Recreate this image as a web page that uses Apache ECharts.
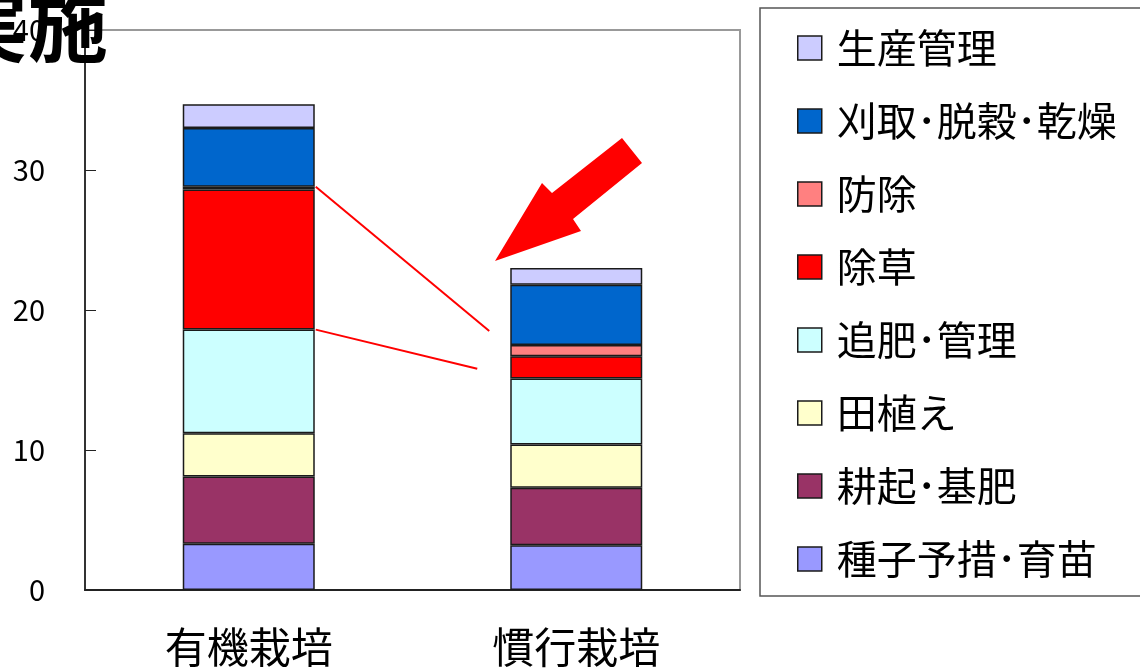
<!DOCTYPE html>
<html>
<head>
<meta charset="utf-8">
<script src="https://cdn.jsdelivr.net/npm/echarts@6/dist/echarts.min.js"></script>
<style>
  html, body { margin: 0; padding: 0; background: #fff; }
  #chart { width: 1140px; height: 668px; }
</style>
</head>
<body>
<div id="chart"></div>
<script>
// 栽培方法
const categories = ['有機栽培', '慣行栽培'];
// 作業区分（下から積み上げる順）
const tasks = ['種子予措･育苗', '耕起･基肥', '田植え', '追肥･管理', '除草', '防除', '刈取･脱穀･乾燥', '生産管理'];
// 作業時間
const organicHours = [3.3, 4.8, 3.1, 7.4, 10.0, 0.2, 4.2, 1.7];
const conventionalHours = [3.2, 4.1, 3.1, 4.7, 1.6, 0.8, 4.3, 1.2];
const taskColors = ['#9999FF', '#993366', '#FFFFCC', '#CCFFFF', '#FF0000', '#FF8080', '#0066CC', '#CCCCFF'];
const yTicks = [0, 10, 20, 30, 40];

const FONT = '"Noto Sans CJK JP", "Noto Sans", sans-serif';
const BAR_W = 132;

const chart = echarts.init(document.getElementById('chart'), null, { renderer: 'canvas' });

const series = tasks.map((name, i) => ({
  name,
  type: 'bar',
  stack: 'hours',
  barWidth: BAR_W,
  data: [organicHours[i], conventionalHours[i]],
  itemStyle: { color: taskColors[i], borderColor: '#1a1a1a', borderWidth: 1.5 },
  emphasis: { disabled: true },
  animation: false
}));

chart.setOption({
  animation: false,
  backgroundColor: '#ffffff',
  grid: {
    left: 85, top: 30, right: 400, bottom: 78,
    show: true, borderColor: '#999999', borderWidth: 2, backgroundColor: 'transparent'
  },
  legend: {
    orient: 'vertical',
    left: 792,
    top: 23,
    itemWidth: 24,
    itemHeight: 24,
    itemGap: 33,
    icon: 'rect',
    data: tasks.slice().reverse(),
    itemStyle: { borderColor: '#1a1a1a', borderWidth: 1.5 },
    textStyle: { fontFamily: FONT, fontSize: 40, color: '#000', lineHeight: 40, padding: [0, 0, 0, 10] },
    selectedMode: false
  },
  xAxis: {
    type: 'category',
    data: categories,
    boundaryGap: true,
    axisLine: { lineStyle: { color: '#222', width: 2 } },
    axisTick: { inside: true, length: 14, lineStyle: { color: '#222', width: 1 } },
    axisLabel: { fontFamily: FONT, fontSize: 42, color: '#000', margin: 36 }
  },
  yAxis: {
    type: 'value',
    min: yTicks[0],
    max: yTicks[yTicks.length - 1],
    interval: 10,
    axisLine: { show: true, lineStyle: { color: '#333', width: 2 } },
    axisTick: { show: true, inside: true, length: 11, lineStyle: { color: '#222', width: 1 } },
    splitLine: { show: false },
    axisLabel: { fontFamily: FONT, fontSize: 29, color: '#000', margin: 40 }
  },
  series
});

// 累積値（積み上げ境界）
function cumulative(values, upto) {
  let s = 0;
  for (let i = 0; i <= upto; i++) s += values[i];
  return s;
}

// 除草の増減を示す引き出し線（有機栽培の除草帯の上下端から）
const weedIdx = tasks.indexOf('除草');
const leaderLines = [
  { from: cumulative(organicHours, weedIdx + 1), to: 18.5, endOffset: -21 },
  { from: cumulative(organicHours, weedIdx - 1), to: 15.8, endOffset: -33 }
];

const graphics = [];
leaderLines.forEach(l => {
  const p0 = chart.convertToPixel({ gridIndex: 0 }, [0, l.from]);
  const p1 = chart.convertToPixel({ gridIndex: 0 }, [1, l.to]);
  graphics.push({
    type: 'line',
    shape: { x1: p0[0] + BAR_W / 2 + 1, y1: p0[1], x2: p1[0] - BAR_W / 2 + l.endOffset, y2: p1[1] },
    style: { stroke: '#FF0000', lineWidth: 2 },
    z: 20
  });
});

// 慣行栽培を指す矢印
graphics.push({
  type: 'polygon',
  shape: {
    points: [[495, 261], [542, 183], [552, 193], [622, 138], [642, 163], [573, 219], [581, 231]]
  },
  style: { fill: '#FF0000' },
  z: 20
});

// 凡例の枠
graphics.push({
  type: 'rect',
  shape: { x: 760, y: 8, width: 420, height: 588 },
  style: { fill: 'none', stroke: '#555', lineWidth: 1.5 },
  z: 5
});

// 見出し
graphics.push({
  type: 'text',
  x: -52,
  y: -15,
  style: { text: '実施', font: 'bold 80px ' + FONT, fill: '#000', textVerticalAlign: 'top' },
  z: 30
});

chart.setOption({ graphic: graphics });
</script>
</body>
</html>
